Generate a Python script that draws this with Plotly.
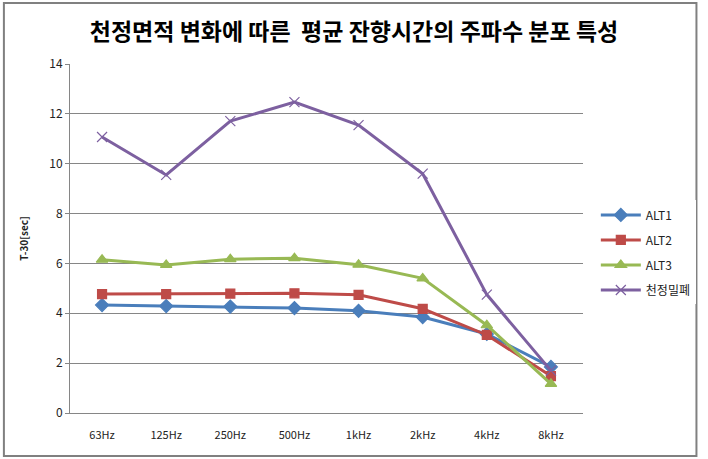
import plotly.graph_objects as go

freqs = ["63Hz", "125Hz", "250Hz", "500Hz", "1kHz", "2kHz", "4kHz", "8kHz"]
alt1 = [4.33, 4.29, 4.27, 4.21, 4.10, 3.85, 3.17, 1.85]
alt2 = [4.77, 4.77, 4.79, 4.80, 4.74, 4.18, 3.13, 1.48]
alt3 = [6.15, 5.94, 6.17, 6.21, 5.95, 5.40, 3.52, 1.17]
closed = [11.07, 9.55, 11.71, 12.47, 11.55, 9.60, 4.75, 1.70]

series = [
    ("ALT1", alt1, "#4A7EBB", "diamond", 10),
    ("ALT2", alt2, "#BE4B48", "square", 9),
    ("ALT3", alt3, "#98B954", "triangle-up", 10),
    ("천정밀폐", closed, "#7D60A0", "x-thin", 10),
]

fig = go.Figure()
for name, vals, col, sym, sz in series:
    fig.add_trace(go.Scatter(
        x=freqs, y=vals, name=name, mode="lines+markers",
        line=dict(color=col, width=3),
        marker=dict(symbol=sym, size=sz, color=col,
                    line=dict(color=col, width=1.2)),
        legendgroup=name,
    ))

fig.update_layout(
    width=708, height=459,
    margin=dict(l=70, r=118, t=64, b=46),
    paper_bgcolor="white", plot_bgcolor="white",
    font=dict(family="Noto Sans CJK KR, Noto Sans, sans-serif", size=11, color="#222"),
    title=dict(text="<b>천정면적 변화에 따른  평균 잔향시간의 주파수 분포 특성</b>",
               x=0.5, xref="container", xanchor="center", y=0.93, yanchor="middle",
               font=dict(size=23, color="black")),
    legend=dict(x=1.025, y=0.46, xanchor="left", yanchor="middle",
                traceorder="grouped", tracegroupgap=6,
                font=dict(size=12), itemwidth=40),
    showlegend=True,
)
fig.update_xaxes(type="category", showline=True, linecolor="#868686", linewidth=1,
                 showgrid=False, ticks="", tickfont=dict(size=11),
                 ticklabelstandoff=12, range=[-0.5, 7.5])
fig.update_yaxes(range=[0, 14], dtick=2, showline=True, linecolor="#868686",
                 linewidth=1, showgrid=True, gridcolor="#868686", gridwidth=1,
                 ticks="outside", ticklen=4, tickcolor="#868686",
                 tickfont=dict(size=12), zeroline=False,
                 title=dict(text="<b>T-30[sec]</b>", font=dict(size=10), standoff=18))

# outer chart border
fig.add_shape(type="rect", xref="paper", yref="paper",
              x0=-67 / 520, x1=635 / 520, y0=-43 / 349, y1=410 / 349,
              line=dict(color="#808080", width=2))

fig.write_html("out.html", config={"displayModeBar": False},
               post_script="document.body.style.margin='0';"
                           "document.body.style.overflow='hidden';")
